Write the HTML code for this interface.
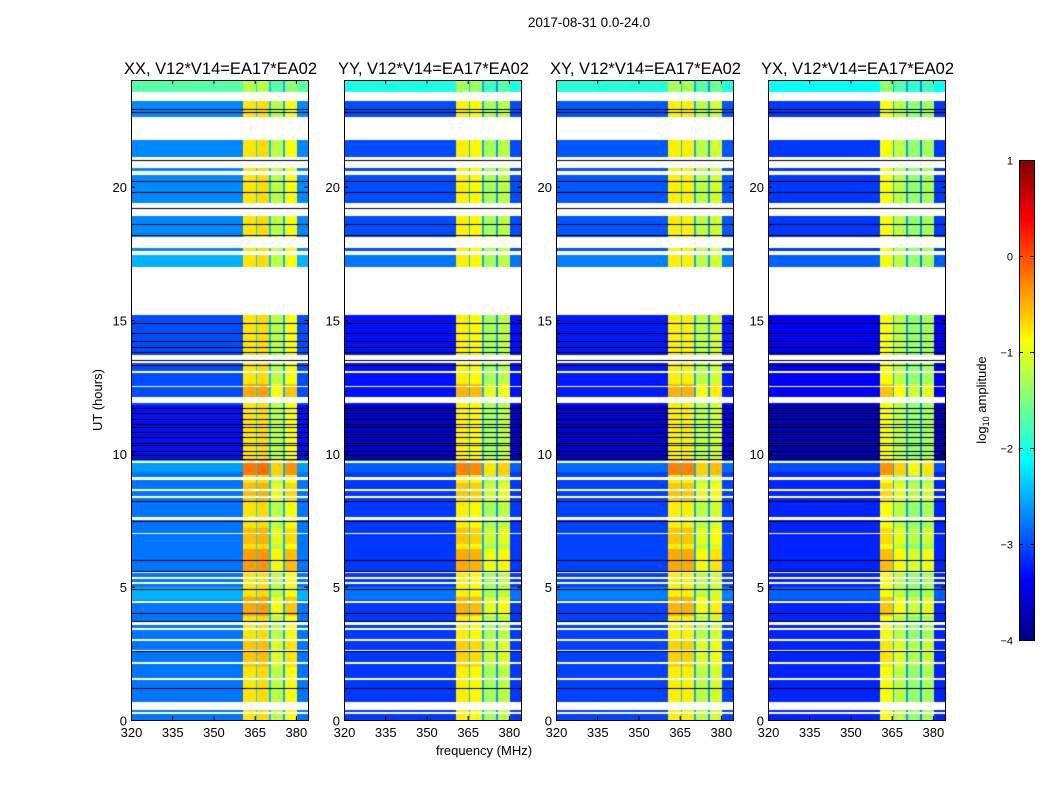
<!DOCTYPE html>
<html><head><meta charset="utf-8"><style>
html,body{margin:0;padding:0;background:#fff;}
#wrap{position:relative;width:1050px;height:800px;overflow:hidden;font-family:"Liberation Sans","DejaVu Sans",sans-serif;}
canvas{position:absolute;}
svg{position:absolute;left:0;top:0;}
</style></head><body>
<div id="wrap">
<canvas id="c0" width="177" height="640" style="left:131px;top:80px"></canvas>
<canvas id="c1" width="177" height="640" style="left:344px;top:80px"></canvas>
<canvas id="c2" width="177" height="640" style="left:556px;top:80px"></canvas>
<canvas id="c3" width="177" height="640" style="left:768px;top:80px"></canvas>
<canvas id="cb" width="15" height="480" style="left:1019px;top:160px"></canvas>
<svg id="ov" width="1050" height="800"></svg>
</div>
<script>
// ---- data ----
const panelTitles=["XX, V12*V14=EA17*EA02","YY, V12*V14=EA17*EA02","XY, V12*V14=EA17*EA02","YX, V12*V14=EA17*EA02"];
const xTicks=[320,335,350,365,380];
const yTicks=[0,5,10,15,20];
const cbTicks=[1,0,-1,-2,-3,-4];
// frequency bands: [fStart,fEnd] and per-panel log amplitude
const bandEdges=[[360.7,365.3],[365.3,366.0],[366.0,370.3],[370.3,371.0],[371.0,375.4],[375.4,376.1],[376.1,380.4]];
const bandXX=[-0.75,-2.3,-0.7,-2.4,-1.2,-2.5,-0.9];
const bandYY=[-0.8,-2.4,-0.85,-2.5,-1.3,-2.6,-1.2];
const bandXY=[-0.8,-2.4,-0.8,-2.5,-1.2,-2.6,-1.1];
const bandYX=[-0.9,-2.5,-1.2,-2.6,-1.4,-2.7,-1.3];
const bandVals=[bandXX,bandYY,bandXY,bandYX];
// background log amplitude over time: [t0,t1,value]
const bgSegments=[[0,4.5,-2.8],[4.5,5.0,-2.5],[5.0,9.3,-2.8],[9.3,9.8,-2.6],[9.8,11.8,-3.3],[11.8,15.2,-3.0],[15.2,17.5,-2.5],[17.5,23.5,-2.7],[23.5,24,-1.7]];
const panelBgOffset=[0,-0.3,-0.25,-0.4];
// band boosts over time: [t0,t1,delta]
const boostSegments=[[9.2,9.8,0.55],[5.6,6.4,0.35],[6.6,7.2,0.2],[3.9,4.6,0.3],[2.0,3.0,0.15],[12.1,12.6,0.3],[8.2,8.9,0.2],[23.5,24,-0.5]];
// flagged (blank) time intervals in hours
const flagged=[[23.2,23.55],[21.75,22.6],[20.7,21.1],[20.45,20.6],[18.9,19.4],[17.7,18.1],[17.45,17.6],[15.2,17.0],[13.4,13.7],[13.0,13.1],[12.47,12.53],[11.9,12.1],[9.64,9.7],[9.0,9.1],[8.6,8.66],[8.33,8.39],[7.5,7.6],[6.97,7.03],[5.5,5.56],[5.3,5.36],[5.1,5.16],[4.4,4.46],[3.55,3.67],[3.38,3.44],[2.97,3.03],[2.57,2.63],[2.11,2.17],[1.5,1.57],[0.37,0.67],[0.23,0.29]];
// black (zero) rows in hours
const blackRows=[22.8,22.9,21.0,20.2,19.8,19.2,18.6,18.2,14.9,14.5,14.2,14.0,13.8,13.5,13.3,11.7,11.5,11.3,11.1,11.0,10.8,10.6,10.4,10.3,10.1,9.95,9.8,8.2,7.45,6.0,5.6,4.9,4.0,3.7,2.6,1.2];

// ---- scales ----
const fMin=320,fMax=384.4,tMin=0,tMax=24;
const W=177,H=640;
function xScale(f){return (f-fMin)/(fMax-fMin)*W;}
function yScale(t){return H-(t-tMin)/(tMax-tMin)*H;}
function jet(v){
  let x=(v+4)/5; x=Math.max(0,Math.min(1,x));
  const r=Math.max(0,Math.min(1,1.5-Math.abs(4*x-3)));
  const g=Math.max(0,Math.min(1,1.5-Math.abs(4*x-2)));
  const b=Math.max(0,Math.min(1,1.5-Math.abs(4*x-1)));
  return [r*255|0,g*255|0,b*255|0];
}
function segVal(segs,t,def){for(const s of segs){if(t>=s[0]&&t<s[1])return s[2];}return def;}
function isFlag(t){for(const s of flagged){if(t>=s[0]&&t<s[1])return true;}return false;}

for(let p=0;p<4;p++){
  const ctx=document.getElementById('c'+p).getContext('2d');
  const img=ctx.createImageData(W,H);
  for(let y=0;y<H;y++){
    const t=tMax-(y+0.5)/H*(tMax-tMin);
    const flag=isFlag(t);
    const bg=segVal(bgSegments,t,-2.8)+panelBgOffset[p];
    const boost=segVal(boostSegments,t,0);
    for(let x=0;x<W;x++){
      const i=(y*W+x)*4;
      if(flag){img.data[i]=255;img.data[i+1]=255;img.data[i+2]=255;img.data[i+3]=255;continue;}
      const f=fMin+(x+0.5)/W*(fMax-fMin);
      let v=bg;
      for(let b=0;b<bandEdges.length;b++){
        if(f>=bandEdges[b][0]&&f<bandEdges[b][1]){const bv=bandVals[p][b];v=bv>-2?bv+boost:bv;break;}
      }
      const c=jet(v);
      img.data[i]=c[0];img.data[i+1]=c[1];img.data[i+2]=c[2];img.data[i+3]=255;
    }
  }
  ctx.putImageData(img,0,0);
  ctx.fillStyle='#000';
  for(const t of blackRows){ctx.fillRect(0,Math.round(yScale(t)),W,1);}
}
{const ctx=document.getElementById('cb').getContext('2d');
 for(let y=0;y<480;y++){const v=1-(y+0.5)/480*5;const c=jet(v);ctx.fillStyle=`rgb(${c[0]},${c[1]},${c[2]})`;ctx.fillRect(0,y,15,1);}}

// ---- overlay svg ----
const NS='http://www.w3.org/2000/svg';
const svg=document.getElementById('ov');
function el(tag,attrs,txt){const e=document.createElementNS(NS,tag);for(const k in attrs)e.setAttribute(k,attrs[k]);if(txt!==undefined)e.textContent=txt;svg.appendChild(e);return e;}
const lefts=[131,344,556,768],top0=80;
let t=el('text',{x:589,y:27,'font-size':13.5,'text-anchor':'middle'},'2017-08-31 0.0-24.0');


for(let p=0;p<4;p++){
  const L=lefts[p];
  const r=el('rect',{x:L+0.5,y:top0+0.5,width:W,height:H,fill:'none',stroke:'#000','stroke-width':1});
  
  
  const tt=el('text',{x:L+W/2+1,y:74,'font-size':16.5,'text-anchor':'middle'},panelTitles[p]);
  
  
  for(const f of xTicks){
    const x=L+xScale(f)+0.5;
    el('line',{x1:x,x2:x,y1:top0+H,y2:top0+H-4,stroke:'#000'});
    el('line',{x1:x,x2:x,y1:top0,y2:top0+4,stroke:'#000'});
    const lb=el('text',{x:x,y:737,'font-size':13,'text-anchor':'middle'},String(f));
    
    
  }
  for(const h of yTicks){
    const y=top0+yScale(h)+0.5;
    el('line',{x1:L,x2:L+4,y1:y,y2:y,stroke:'#000'});
    el('line',{x1:L+W,x2:L+W-4,y1:y,y2:y,stroke:'#000'});
    const lb=el('text',{x:L-4,y:y+5,'font-size':13,'text-anchor':'end'},String(h));
    
    
  }
}
let yl=el('text',{x:102,y:400,'font-size':13,'text-anchor':'middle',transform:'rotate(-90 102 400)'},'UT (hours)');


let xl=el('text',{x:484,y:755,'font-size':13,'text-anchor':'middle'},'frequency (MHz)');


const cbf=el('rect',{x:1019.5,y:160.5,width:15,height:480,fill:'none',stroke:'#000'});


for(const v of cbTicks){
  const y=160+(1-v)/5*480+0.5;
  el('line',{x1:1019,x2:1023,y1:y,y2:y,stroke:'#000'});
  el('line',{x1:1034,x2:1030,y1:y,y2:y,stroke:'#000'});
  const lb=el('text',{x:1013,y:y+4,'font-size':11,'text-anchor':'end'},(v<0?'\u2212':'')+Math.abs(v));
  
  
}
const cl=el('text',{x:986,y:400,'font-size':13,'text-anchor':'middle',transform:'rotate(-90 986 400)'});


cl.innerHTML='log<tspan font-size="9" dy="3">10</tspan><tspan dy="-3"> amplitude</tspan>';
</script>
</body></html>
